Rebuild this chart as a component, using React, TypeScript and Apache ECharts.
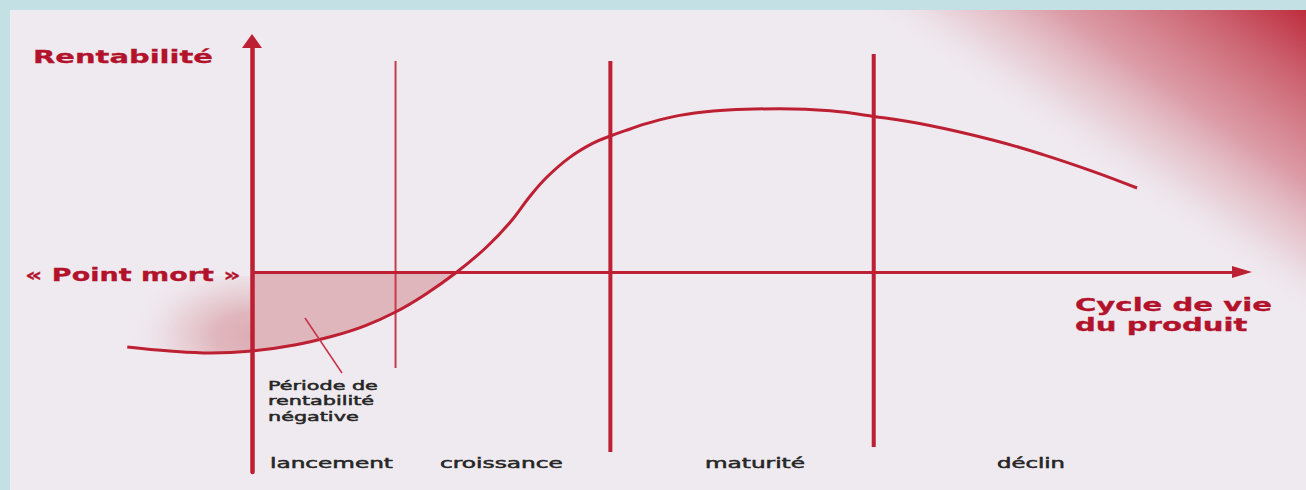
import React, { useEffect, useRef } from 'react';
import * as echarts from 'echarts';

// Product life cycle curve (time units vs profitability units)
const lifeTime = [-12.6, -8.3, -4.2, 0, 4.3, 8.2, 11.4, 14.5, 17.5, 20.7, 23.7, 26.1, 28.1, 29.8, 32.1, 34.4, 36.2, 38.2, 39.9, 43.2, 46.6, 49.9, 53.3, 58.4, 62.8, 68.2, 74.9, 79.9, 85.0, 89.4];
const profitability = [-37.5, -39.5, -40.5, -39.5, -36.5, -32, -26.9, -20, -11.2, 0, 12.5, 25, 38, 47.5, 57.3, 64.3, 68, 71.5, 74.3, 78.3, 80.5, 81.4, 81.6, 80.6, 77.8, 73.5, 65.9, 58.7, 50.2, 42];

// Phase boundaries
const phaseBoundaries = [14.5, 36.2, 62.8];
const boundaryTop = [105.5, 105.5, 109];
const boundaryBottom = [-48, -90, -87.5];

const phaseNames = ['lancement', 'croissance', 'maturité', 'déclin'];

const xMin = -13;
const xMax = 100;
const yMin = -100;
const yMax = 115.5;

const RED = '#bd1f33';
const TEXT_RED = '#b3122b';
const GREY = '#262626';
const FONT = '"DejaVu Sans", Verdana, sans-serif';

function measure(text: string, size: number, bold: boolean) {
  const ctx = document.createElement('canvas').getContext('2d');
  if (!ctx) return 100;
  ctx.font = `${bold ? 'bold ' : ''}${size}px ${FONT}`;
  return Math.max(...text.split('\n').map((l) => ctx.measureText(l).width));
}

export default function App() {
  const ref = useRef<HTMLDivElement>(null);

  useEffect(() => {
    if (!ref.current) return;
    const chart = echarts.init(ref.current, undefined, { renderer: 'svg' });

    const curve = lifeTime.map((t, i) => [t, profitability[i]]);
    const blob = curve.filter((p) => p[0] <= 0);
    const negative = curve.filter((p) => p[0] >= 0 && p[1] <= 0);

    const labels = [
      { text: 'Rentabilité', left: 33, cy: 57, width: 180, size: 18, bold: true, color: TEXT_RED, lh: 20 },
      { text: '« Point mort »', left: 25, cy: 275, width: 216, size: 17, bold: true, color: TEXT_RED, lh: 20 },
      { text: 'Cycle de vie\ndu produit', left: 1075, cy: 315, width: 197, size: 17, bold: true, color: TEXT_RED, lh: 20 },
      { text: 'Période de\nrentabilité\nnégative', left: 268, cy: 401, width: 110, size: 12.5, bold: false, color: GREY, lh: 15.5 },
      { text: phaseNames[0], left: 270, cy: 463, width: 123, size: 14, bold: false, color: GREY, lh: 16 },
      { text: phaseNames[1], left: 440, cy: 463, width: 123, size: 14, bold: false, color: GREY, lh: 16 },
      { text: phaseNames[2], left: 705, cy: 463, width: 100, size: 14, bold: false, color: GREY, lh: 16 },
      { text: phaseNames[3], left: 997, cy: 463, width: 68, size: 14, bold: false, color: GREY, lh: 16 },
    ];

    const textElements = labels.map((l) => ({
      type: 'text',
      x: l.left,
      y: l.cy,
      scaleX: l.width / measure(l.text, l.size, l.bold),
      z: 20,
      silent: true,
      style: {
        text: l.text,
        fill: l.color,
        stroke: l.color,
        lineWidth: l.bold ? 0.3 : 0.5,
        fontSize: l.size,
        fontWeight: l.bold ? 'bold' : 'normal',
        fontFamily: FONT,
        lineHeight: l.lh,
        align: 'left',
        verticalAlign: 'middle',
        textAlign: 'left',
        textVerticalAlign: 'middle',
      },
    }));

    const boundarySeries = phaseBoundaries.map((x, i) => ({
      type: 'line',
      data: [
        [x, boundaryTop[i]],
        [x, boundaryBottom[i]],
      ],
      showSymbol: false,
      symbol: 'none',
      silent: true,
      z: 3,
      lineStyle: i === 0 ? { color: '#c93a4b', width: 2 } : { color: RED, width: 4 },
    }));

    const option: any = {
      animation: false,
      backgroundColor: '#c3e1e5',
      grid: { left: 252 + xMin * 9.9, right: 64, top: 41, bottom: 18 },
      tooltip: { show: false },
      xAxis: {
        type: 'value',
        min: xMin,
        max: xMax,
        axisLine: { show: false },
        axisTick: { show: false },
        axisLabel: { show: false },
        splitLine: { show: false },
      },
      yAxis: {
        type: 'value',
        min: yMin,
        max: yMax,
        z: 3,
        axisLine: {
          show: true,
          onZero: true,
          symbol: ['none', 'triangle'],
          symbolSize: [20, 14],
          lineStyle: { color: RED, width: 4.5 },
        },
        axisTick: { show: false },
        axisLabel: { show: false },
        splitLine: { show: false },
      },
      graphic: [
        {
          type: 'rect',
          z: 0,
          silent: true,
          shape: { x: 10, y: 10, width: 1296, height: 480 },
          style: { fill: '#efeaf0' },
        },
        {
          type: 'rect',
          z: 0,
          silent: true,
          shape: { x: 10, y: 10, width: 1296, height: 480 },
          style: {
            fill: {
              type: 'linear',
              x: 1306,
              y: 10,
              x2: 1160,
              y2: 219,
              global: true,
              colorStops: [
                { offset: 0, color: 'rgba(190,45,62,1)' },
                { offset: 0.24, color: 'rgba(192,52,68,0.74)' },
                { offset: 0.56, color: 'rgba(198,70,86,0.47)' },
                { offset: 0.82, color: 'rgba(210,120,135,0.18)' },
                { offset: 1, color: 'rgba(239,234,240,0)' },
              ],
            },
          },
        },
        {
          type: 'line',
          z: 20,
          silent: true,
          shape: { x1: 305, y1: 318, x2: 342, y2: 373 },
          style: { stroke: '#c83048', lineWidth: 1.5 },
        },
        ...textElements,
      ],
      series: [
        {
          type: 'line',
          data: blob,
          smooth: 0.4,
          showSymbol: false,
          symbol: 'none',
          clip: false,
          silent: true,
          z: 1,
          lineStyle: { width: 0, opacity: 0 },
          areaStyle: {
            origin: -2,
            opacity: 1,
            color: {
              type: 'radial',
              x: 1,
              y: 0.77,
              r: 1,
              colorStops: [
                { offset: 0, color: 'rgba(221,172,179,1)' },
                { offset: 0.3, color: 'rgba(222,176,183,0.88)' },
                { offset: 0.6, color: 'rgba(226,190,196,0.5)' },
                { offset: 0.85, color: 'rgba(232,210,215,0.14)' },
                { offset: 1, color: 'rgba(239,234,240,0)' },
              ],
            },
          },
        },
        {
          type: 'line',
          data: negative,
          smooth: 0.4,
          showSymbol: false,
          symbol: 'none',
          clip: false,
          silent: true,
          z: 1,
          lineStyle: { width: 0, opacity: 0 },
          areaStyle: { color: '#dfb6bb', opacity: 1 },
        },
        ...boundarySeries,
        {
          type: 'line',
          data: curve,
          smooth: 0.4,
          showSymbol: false,
          symbol: 'none',
          clip: false,
          silent: true,
          z: 4,
          lineStyle: { color: RED, width: 3 },
          markLine: {
            silent: true,
            symbol: ['none', 'triangle'],
            symbolSize: [12, 20],
            label: { show: false },
            emphasis: { disabled: true },
            lineStyle: { color: RED, width: 3, type: 'solid' },
            data: [[{ coord: [0, 0] }, { coord: [xMax, 0] }]],
          },
        },
      ],
    };

    chart.setOption(option);
    return () => chart.dispose();
  }, []);

  return (
    <div
      ref={ref}
      style={{ position: 'absolute', left: 0, top: 0, width: 1306, height: 490 }}
    />
  );
}
